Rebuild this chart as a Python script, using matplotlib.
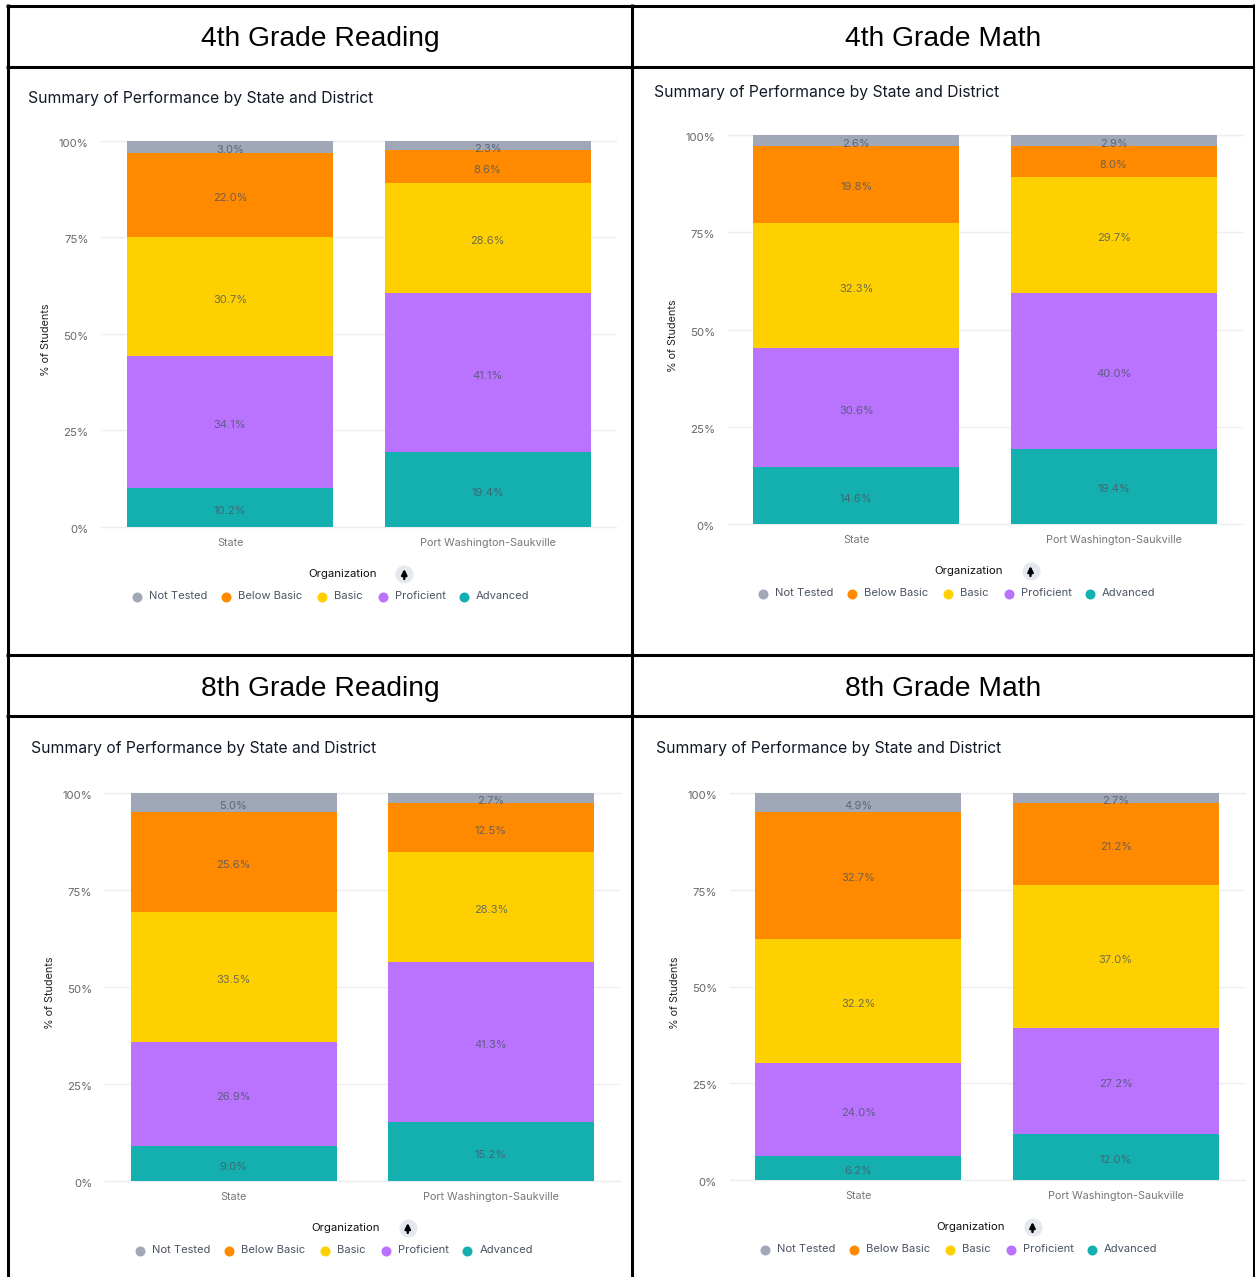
#!/usr/bin/env python3
"""Port Washington-Saukville vs state performance, four small stacked bar charts."""
import matplotlib
matplotlib.use('Agg')
import matplotlib.pyplot as plt
from matplotlib.transforms import ScaledTranslation

W, H = 1255, 1277
UI_FONT = ['Inter', 'DejaVu Sans']

organizations = ['State', 'Port Washington-Saukville']
levels = ['Advanced', 'Proficient', 'Basic', 'Below Basic', 'Not Tested']
legend_order = ['Not Tested', 'Below Basic', 'Basic', 'Proficient', 'Advanced']
yticks = [0, 25, 50, 75, 100]

# values per level, bottom to top: [State, district]
advanced_r4 = [10.2, 19.4]
proficient_r4 = [34.1, 41.1]
basic_r4 = [30.7, 28.6]
below_r4 = [22.0, 8.6]
not_tested_r4 = [3.0, 2.3]

advanced_m4 = [14.6, 19.4]
proficient_m4 = [30.6, 40.0]
basic_m4 = [32.3, 29.7]
below_m4 = [19.8, 8.0]
not_tested_m4 = [2.6, 2.9]

advanced_r8 = [9.0, 15.2]
proficient_r8 = [26.9, 41.3]
basic_r8 = [33.5, 28.3]
below_r8 = [25.6, 12.5]
not_tested_r8 = [5.0, 2.7]

advanced_m8 = [6.2, 12.0]
proficient_m8 = [24.0, 27.2]
basic_m8 = [32.2, 37.0]
below_m8 = [32.7, 21.2]
not_tested_m8 = [4.9, 2.7]

COLORS = {
    'Not Tested': '#a0a8b8',
    'Below Basic': '#ff8a00',
    'Basic': '#ffd000',
    'Proficient': '#b973ff',
    'Advanced': '#14b0b0',
}

# name, header centre, header y, plot left, y of 100%, y of 0%, title x/y, values
panels = [
    ('4th Grade Reading', 320, 39, 101.25, 141, 527, 28, 98,
     [advanced_r4, proficient_r4, basic_r4, below_r4, not_tested_r4]),
    ('4th Grade Math', 943, 39, 727.5, 135, 524, 654, 92,
     [advanced_m4, proficient_m4, basic_m4, below_m4, not_tested_m4]),
    ('8th Grade Reading', 320, 689, 104.75, 793, 1181, 31, 749,
     [advanced_r8, proficient_r8, basic_r8, below_r8, not_tested_r8]),
    ('8th Grade Math', 943, 689, 729.5, 793, 1180, 656, 749,
     [advanced_m8, proficient_m8, basic_m8, below_m8, not_tested_m8]),
]

PLOT_W = 515
legend_dots = [35.5, 124.5, 220.5, 281.5, 362.5]
legend_text = [47.5, 136.5, 232.5, 293.5, 374.5]


def draw_panel(fig, overlay, panel):
    name, hx, hy, left, y100, y0, tx, ty, values = panel
    ax = fig.add_axes([left / W, 1 - y0 / H, PLOT_W / W, (y0 - y100) / H])

    bottom = [0, 0]
    for level, vals in zip(levels, values):
        ax.bar([0, 1], vals, 0.8, bottom=bottom, color=COLORS[level], zorder=2)
        for i, v in enumerate(vals):
            ax.annotate(f'{v:.1f}%', (i, bottom[i] + v / 2), xytext=(0, -2.3),
                        textcoords='offset points', ha='center', va='center',
                        fontsize=8, color='#4b5563', alpha=0.8, zorder=3,
                        family=UI_FONT)
        bottom = [b + v for b, v in zip(bottom, vals)]

    ax.set_xlim(-0.5, 1.5)
    ax.set_ylim(0, 100)
    ax.set_yticks(yticks)
    ax.set_yticklabels([f'{t}%' for t in yticks], fontsize=8.2, color='#666666',
                       family=UI_FONT)
    ax.set_xticks([0, 1])
    ax.set_xticklabels(organizations, fontsize=7.8, color='#777777', family=UI_FONT)
    ax.tick_params(length=0)
    ax.tick_params(axis='y', pad=9)
    ax.tick_params(axis='x', pad=8)
    # y labels sit a little under their gridlines
    shift = ScaledTranslation(0, -2 / 100, fig.dpi_scale_trans)
    for label in ax.get_yticklabels():
        label.set_transform(label.get_transform() + shift)
    ax.grid(axis='y', color='#eeeeee', linewidth=1, zorder=0)
    ax.set_axisbelow(True)
    for spine in ax.spines.values():
        spine.set_visible(False)
    ax.set_ylabel('% of Students', fontsize=7.8, color='#222222', family=UI_FONT)
    ax.yaxis.set_label_coords(-50 / PLOT_W, 0.5 - 6 / (y0 - y100))
    for y in [0, 100]:
        ax.axhline(y, color='#eeeeee', linewidth=1, zorder=1, clip_on=False)

    # header and title
    overlay.text(hx, hy, name, fontsize=20.3, ha='center', va='center',
                 family='Liberation Sans', color='black')
    overlay.text(tx, ty, 'Summary of Performance by State and District', fontsize=11.3,
                 ha='left', va='center', color='#111827', family=UI_FONT)

    # legend block sits at a fixed distance under the plot
    ly = y0 + 69
    overlay.text(left + 241, ly - 22, 'Organization', fontsize=8.2, ha='center',
                 va='center', color='#111111', family=UI_FONT)
    overlay.scatter([left + 303], [ly - 22], s=170, color='#e5e9ef', linewidths=0, zorder=3)
    overlay.annotate('', xy=(left + 303, ly - 27), xytext=(left + 303, ly - 17),
                     arrowprops=dict(arrowstyle='-|>', color='black', lw=1.7,
                                     mutation_scale=8, shrinkA=0, shrinkB=0),
                     zorder=4)
    for dx, tx2, label in zip(legend_dots, legend_text, legend_order):
        overlay.scatter([left + dx], [ly + 1], s=52, color=COLORS[label],
                        linewidths=0, zorder=3)
        overlay.text(left + tx2, ly, label, fontsize=8.05, ha='left', va='center',
                     color='#4b5563', family=UI_FONT)


def main():
    fig = plt.figure(figsize=(W / 100, H / 100), dpi=100, facecolor='white')

    overlay = fig.add_axes([0, 0, 1, 1], zorder=5)
    overlay.set_xlim(0, W)
    overlay.set_ylim(H, 0)
    overlay.axis('off')
    overlay.patch.set_alpha(0)

    # table frame
    for x in [7.5, 631.5, 1254]:
        overlay.plot([x, x], [4, H], color='black', lw=2.2, solid_capstyle='butt')
    for y in [5.5, 67, 655, 716]:
        overlay.plot([6, 1255], [y, y], color='black', lw=2.2, solid_capstyle='butt')

    for panel in panels:
        draw_panel(fig, overlay, panel)

    fig.savefig('out.png', dpi=100, facecolor='white')


if __name__ == '__main__':
    main()
